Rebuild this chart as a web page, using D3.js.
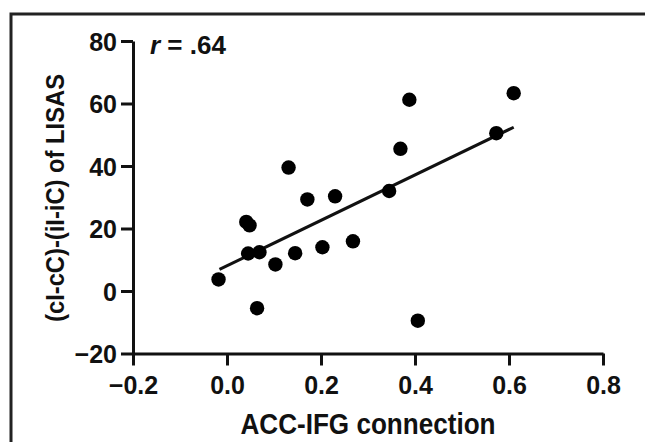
<!DOCTYPE html>
<html>
<head>
<meta charset="utf-8">
<script src="https://cdn.jsdelivr.net/npm/d3@7"></script>
<style>
  body { margin: 0; background: #fff; }
  svg text { font-family: "Liberation Sans", Arial, sans-serif; font-weight: bold; fill: #111; }
  .axis path, .axis line { stroke: #111; stroke-width: 3; }
</style>
</head>
<body>
<div id="chart"></div>
<script>
// ACC-IFG connection vs (cI-cC)-(iI-iC) of LISAS
var connection = [-0.018, 0.041, 0.048, 0.045, 0.069, 0.064, 0.103, 0.131, 0.145, 0.171,
                  0.203, 0.230, 0.268, 0.345, 0.369, 0.388, 0.406, 0.573, 0.610];
var lisas = [3.7, 22.1, 21.0, 12.0, 12.4, -5.5, 8.5, 39.5, 12.1, 29.3,
             14.0, 30.3, 15.9, 32.0, 45.5, 61.2, -9.5, 50.5, 63.3];
// fitted line ends
var fitX = [-0.016, 0.61],
    fitY = [6.9, 52.4];
var xTicks = [-0.2, 0, 0.2, 0.4, 0.6, 0.8],
    yTicks = [-20, 0, 20, 40, 60, 80];
var rLabel = ".64";

var W = 645, H = 442;

var svg = d3.select("#chart")
  .append("svg")
  .attr("width", W)
  .attr("height", H);

svg.append("rect").attr("width", W).attr("height", H).attr("fill", "#fff");

// frame (cropped panel border)
svg.append("path")
  .attr("d", "M11," + (H + 10) + "V14H" + (W + 10))
  .attr("fill", "none")
  .attr("stroke", "#222")
  .attr("stroke-width", 3);

var x = d3.scaleLinear().domain([-0.2, 0.8]).range([133, 603]);
var y = d3.scaleLinear().domain([-20, 80]).range([353.5, 41]);

var fmtX = function(d){ return d < 0 ? "\u2212" + Math.abs(d).toFixed(1) : d.toFixed(1); };
var fmtY = function(d){ return d < 0 ? "\u2212" + Math.abs(d) : d; };

var gx = svg.append("g")
  .attr("class", "axis")
  .attr("transform", "translate(0," + y(-20) + ")")
  .call(d3.axisBottom(x).tickValues(xTicks).tickFormat(fmtX).tickSize(12).tickSizeOuter(0).tickPadding(11));

var gy = svg.append("g")
  .attr("class", "axis")
  .attr("transform", "translate(" + x(-0.2) + ",0)")
  .call(d3.axisLeft(y).tickValues(yTicks).tickFormat(fmtY).tickSize(12).tickSizeOuter(0).tickPadding(4));

gx.selectAll("text").style("font-size", "25px").attr("fill", "#111");
gy.selectAll("text").style("font-size", "25px").attr("fill", "#111").attr("dy", "0.36em");

// regression line
svg.append("line")
  .attr("x1", x(fitX[0])).attr("y1", y(fitY[0]))
  .attr("x2", x(fitX[1])).attr("y2", y(fitY[1]))
  .attr("stroke", "#111")
  .attr("stroke-width", 3);

// points
svg.selectAll(".dot")
  .data(connection.map(function(c, i){ return {x: c, y: lisas[i]}; }))
  .enter().append("circle")
  .attr("class", "dot")
  .attr("cx", function(d){ return x(d.x); })
  .attr("cy", function(d){ return y(d.y); })
  .attr("r", 7.2)
  .attr("fill", "#000");

// r label
var rt = svg.append("text")
  .attr("x", 150)
  .attr("y", 54)
  .style("font-size", "26px");
rt.append("tspan").style("font-style", "italic").text("r");
rt.append("tspan").text(" = " + rLabel);

// axis titles
svg.append("text")
  .attr("transform", "translate(368,434) scale(0.9,1)")
  .attr("text-anchor", "middle")
  .style("font-size", "29px")
  .text("ACC-IFG connection");

svg.append("text")
  .attr("transform", "translate(64,198) rotate(-90) scale(0.95,1)")
  .attr("text-anchor", "middle")
  .style("font-size", "25px")
  .text("(cI-cC)-(iI-iC) of LISAS");
</script>
</body>
</html>
